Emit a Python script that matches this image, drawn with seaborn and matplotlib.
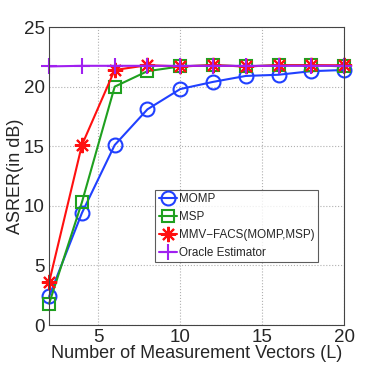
import pandas as pd
import matplotlib.pyplot as plt
import seaborn as sns

# data
L = [2, 4, 6, 8, 10, 12, 14, 16, 18, 20]
momp = [2.4, 9.4, 15.1, 18.1, 19.8, 20.4, 20.9, 21.0, 21.3, 21.4]
msp = [1.8, 10.3, 20.0, 21.3, 21.7, 21.8, 21.7, 21.8, 21.8, 21.7]
facs = [3.6, 15.1, 21.4, 21.8, 21.7, 21.8, 21.7, 21.8, 21.8, 21.8]
oracle = [21.7, 21.75, 21.75, 21.75, 21.75, 21.75, 21.75, 21.75, 21.75, 21.75]

names = ['MOMP', 'MSP', 'MMV\u2212FACS(MOMP,MSP)', 'Oracle Estimator']
series = [momp, msp, facs, oracle]
colors = ['#2040ff', '#1fa01f', '#ff1010', '#a020f0']
markers = ['o', 's', (8, 2, 0), '+']
msizes = [10, 9, 11, 12]

rows = []
for n, s in zip(names, series):
    for x, y in zip(L, s):
        rows.append([n, x, y])
df = pd.DataFrame(rows, columns=['method', 'L', 'val'])

sns.set_style('white')
plt.rcParams['font.family'] = ['Liberation Sans', 'DejaVu Sans']

fig = plt.figure(figsize=(3.81, 3.66), dpi=100)
ax = fig.add_axes([0.129, 0.112, 0.774, 0.814])

for n, c, m, ms in zip(names, colors, markers, msizes):
    sub = df[df['method'] == n]
    sns.lineplot(data=sub, x='L', y='val', ax=ax, color=c, marker=m,
                 markersize=ms, markerfacecolor='none', markeredgecolor=c,
                 markeredgewidth=1.5, linewidth=1.5, label=n, clip_on=False)

ax.set_xlim(2, 20)
ax.set_ylim(0, 25)
ax.set_xticks([5, 10, 15, 20])
ax.set_yticks([0, 5, 10, 15, 20, 25])
ax.grid(True, linestyle=':', color='#b0b0b0', linewidth=0.8)
ax.tick_params(direction='in', labelsize=13.5, length=4, pad=3)
for sp in ax.spines.values():
    sp.set_color('#444444')
    sp.set_linewidth(0.8)
ax.set_xlabel('Number of Measurement Vectors (L)', fontsize=13, labelpad=-1)
ax.set_ylabel('ASRER(in dB)', fontsize=13, labelpad=0)

leg = ax.legend(loc='lower left', bbox_to_anchor=(0.36, 0.21), fontsize=8.4,
                frameon=True, fancybox=False, edgecolor='#333333',
                handlelength=1.6, handletextpad=0.1, borderpad=0.3,
                labelspacing=0.5, borderaxespad=0)
leg.get_frame().set_linewidth(0.8)

fig.savefig('out.png', dpi=100)
